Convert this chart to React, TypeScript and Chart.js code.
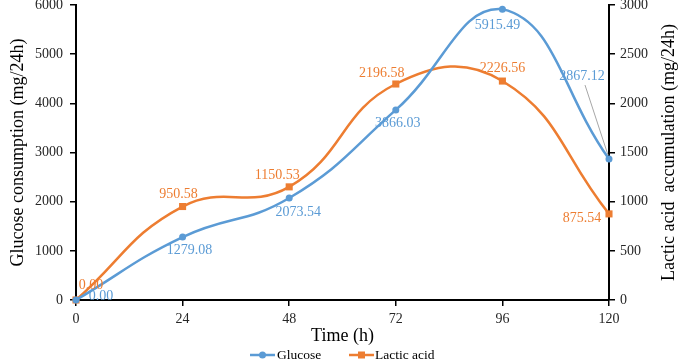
import { useEffect, useRef } from 'react';
import { Chart, registerables } from 'chart.js';

Chart.register(...registerables);

// ---- data ----
const hours = [0, 24, 48, 72, 96, 120];
const glucose = [0, 1279.08, 2073.54, 3866.03, 5915.49, 2867.12];
const lacticAcid = [0, 950.58, 1150.53, 2196.58, 2226.56, 875.54];
const seriesNames = ['Glucose', 'Lactic acid'];
const xTitle = 'Time (h)';
const leftTitle = 'Glucose consumption (mg/24h)';
const rightTitle = 'Lactic acid  accumulation (mg/24h)';

// ---- style ----
const BLUE = '#5B9BD5';
const ORANGE = '#ED7D31';
const FONT = '"Liberation Serif", "Times New Roman", serif';
// pixel offsets of the data labels from their points
const glucoseLabelOffsets = [[25, -4], [7, 13], [9, 14], [2, 13], [-5, 16], [-27, -83]];
const lacticLabelOffsets = [[15, -15], [-4, -12], [-12, -12], [-14, -11], [0, -13], [-27, 4]];

const dataLabelPlugin = {
  id: 'dataLabels',
  afterDatasetsDraw(chart: any) {
    const ctx = chart.ctx;
    ctx.save();
    ctx.font = `14px ${FONT}`;
    ctx.textAlign = 'center';
    ctx.textBaseline = 'middle';
    chart.data.datasets.forEach((ds: any, di: number) => {
      const meta = chart.getDatasetMeta(di);
      const offs = di === 0 ? glucoseLabelOffsets : lacticLabelOffsets;
      meta.data.forEach((pt: any, i: number) => {
        const v = ds.data[i].y;
        const lx = pt.x + offs[i][0];
        const ly = pt.y + offs[i][1];
        if (di === 0 && i === ds.data.length - 1) {
          ctx.strokeStyle = '#A6A6A6';
          ctx.lineWidth = 1;
          ctx.beginPath();
          ctx.moveTo(lx + 3, ly + 9);
          ctx.lineTo(pt.x - 1, pt.y - 4);
          ctx.stroke();
        }
        ctx.fillStyle = di === 0 ? BLUE : ORANGE;
        ctx.fillText(v.toFixed(2), lx, ly);
      });
    });
    ctx.restore();
  },
};

const extrasPlugin = {
  id: 'extras',
  afterDraw(chart: any) {
    const ctx = chart.ctx;
    const area = chart.chartArea;
    ctx.save();
    // right axis title, reading bottom-to-top
    ctx.font = `18px ${FONT}`;
    ctx.fillStyle = '#000';
    ctx.textAlign = 'center';
    ctx.textBaseline = 'middle';
    ctx.translate(669, (area.top + area.bottom) / 2);
    ctx.rotate(-Math.PI / 2);
    ctx.fillText(rightTitle, 0, 0);
    ctx.restore();

    // legend
    const y = 355;
    ctx.save();
    ctx.font = `13.5px ${FONT}`;
    ctx.textBaseline = 'middle';
    ctx.textAlign = 'left';
    ctx.strokeStyle = BLUE;
    ctx.lineWidth = 2.5;
    ctx.beginPath();
    ctx.moveTo(250, y);
    ctx.lineTo(275, y);
    ctx.stroke();
    ctx.fillStyle = BLUE;
    ctx.beginPath();
    ctx.arc(262.5, y, 3.5, 0, Math.PI * 2);
    ctx.fill();
    ctx.fillStyle = '#000';
    ctx.fillText(seriesNames[0], 277, y);
    ctx.strokeStyle = ORANGE;
    ctx.beginPath();
    ctx.moveTo(349, y);
    ctx.lineTo(374, y);
    ctx.stroke();
    ctx.fillStyle = ORANGE;
    ctx.fillRect(358, y - 3.5, 7, 7);
    ctx.fillStyle = '#000';
    ctx.fillText(seriesNames[1], 375, y);
    ctx.restore();
  },
};

export default function App() {
  const ref = useRef<HTMLCanvasElement>(null);
  useEffect(() => {
    if (!ref.current) return;
    const tickFont = { family: FONT, size: 14 };
    const titleFont = { family: FONT, size: 18 };
    const plain = (v: any) => String(v);
    const chart = new Chart(ref.current, {
      type: 'line',
      data: {
        datasets: [
          {
            label: seriesNames[0],
            data: hours.map((h, i) => ({ x: h, y: glucose[i] })),
            borderColor: BLUE,
            backgroundColor: BLUE,
            borderWidth: 2.5,
            pointStyle: 'circle',
            pointRadius: 3.5,
            pointBorderWidth: 0,
            tension: 0.45,
            yAxisID: 'y',
            clip: false,
          },
          {
            label: seriesNames[1],
            data: hours.map((h, i) => ({ x: h, y: lacticAcid[i] })),
            borderColor: ORANGE,
            backgroundColor: ORANGE,
            borderWidth: 2.5,
            pointStyle: 'rect',
            pointRadius: 5,
            pointBorderWidth: 0,
            tension: 0.45,
            yAxisID: 'y1',
            clip: false,
          },
        ],
      },
      options: {
        responsive: false,
        animation: false,
        layout: { padding: { top: 5, left: 0, right: 0, bottom: 0 } },
        plugins: {
          legend: { display: false },
          tooltip: { enabled: false },
        },
        scales: {
          x: {
            type: 'linear',
            min: 0,
            max: 120,
            ticks: { stepSize: 24, font: tickFont, color: '#262626', padding: 5, callback: plain },
            grid: { drawOnChartArea: false, drawTicks: true, tickLength: 6, color: '#000', lineWidth: 1.5 },
            border: { color: '#000', width: 2 },
            title: { display: true, text: xTitle, font: titleFont, color: '#000', padding: { top: 0, bottom: 17 } },
            afterFit(scale: any) {
              scale.height = 64;
              scale.paddingLeft = 0;
              scale.paddingRight = 0;
            },
          },
          y: {
            position: 'left',
            min: 0,
            max: 6000,
            ticks: { stepSize: 1000, font: tickFont, color: '#262626', padding: 7, callback: plain },
            grid: { drawOnChartArea: false, drawTicks: true, tickLength: 6, color: '#000', lineWidth: 1.5 },
            border: { color: '#000', width: 2 },
            title: { display: true, text: leftTitle, font: titleFont, color: '#000', padding: { top: 7, bottom: 0 } },
            afterFit(scale: any) {
              scale.width = 76;
              scale.paddingTop = 0;
              scale.paddingBottom = 0;
            },
          },
          y1: {
            position: 'right',
            min: 0,
            max: 3000,
            ticks: { stepSize: 500, font: tickFont, color: '#262626', padding: 5, callback: plain },
            grid: { drawOnChartArea: false, drawTicks: true, tickLength: 6, color: '#000', lineWidth: 1.5 },
            border: { color: '#000', width: 2 },
            title: { display: false },
            afterFit(scale: any) {
              scale.width = 78;
              scale.paddingTop = 0;
              scale.paddingBottom = 0;
            },
          },
        },
      },
      plugins: [dataLabelPlugin, extrasPlugin],
    });
    return () => chart.destroy();
  }, []);
  return (
    <canvas
      ref={ref}
      width={687}
      height={364}
      style={{ position: 'absolute', left: 0, top: 0, width: 687, height: 364, background: '#fff' }}
    />
  );
}
